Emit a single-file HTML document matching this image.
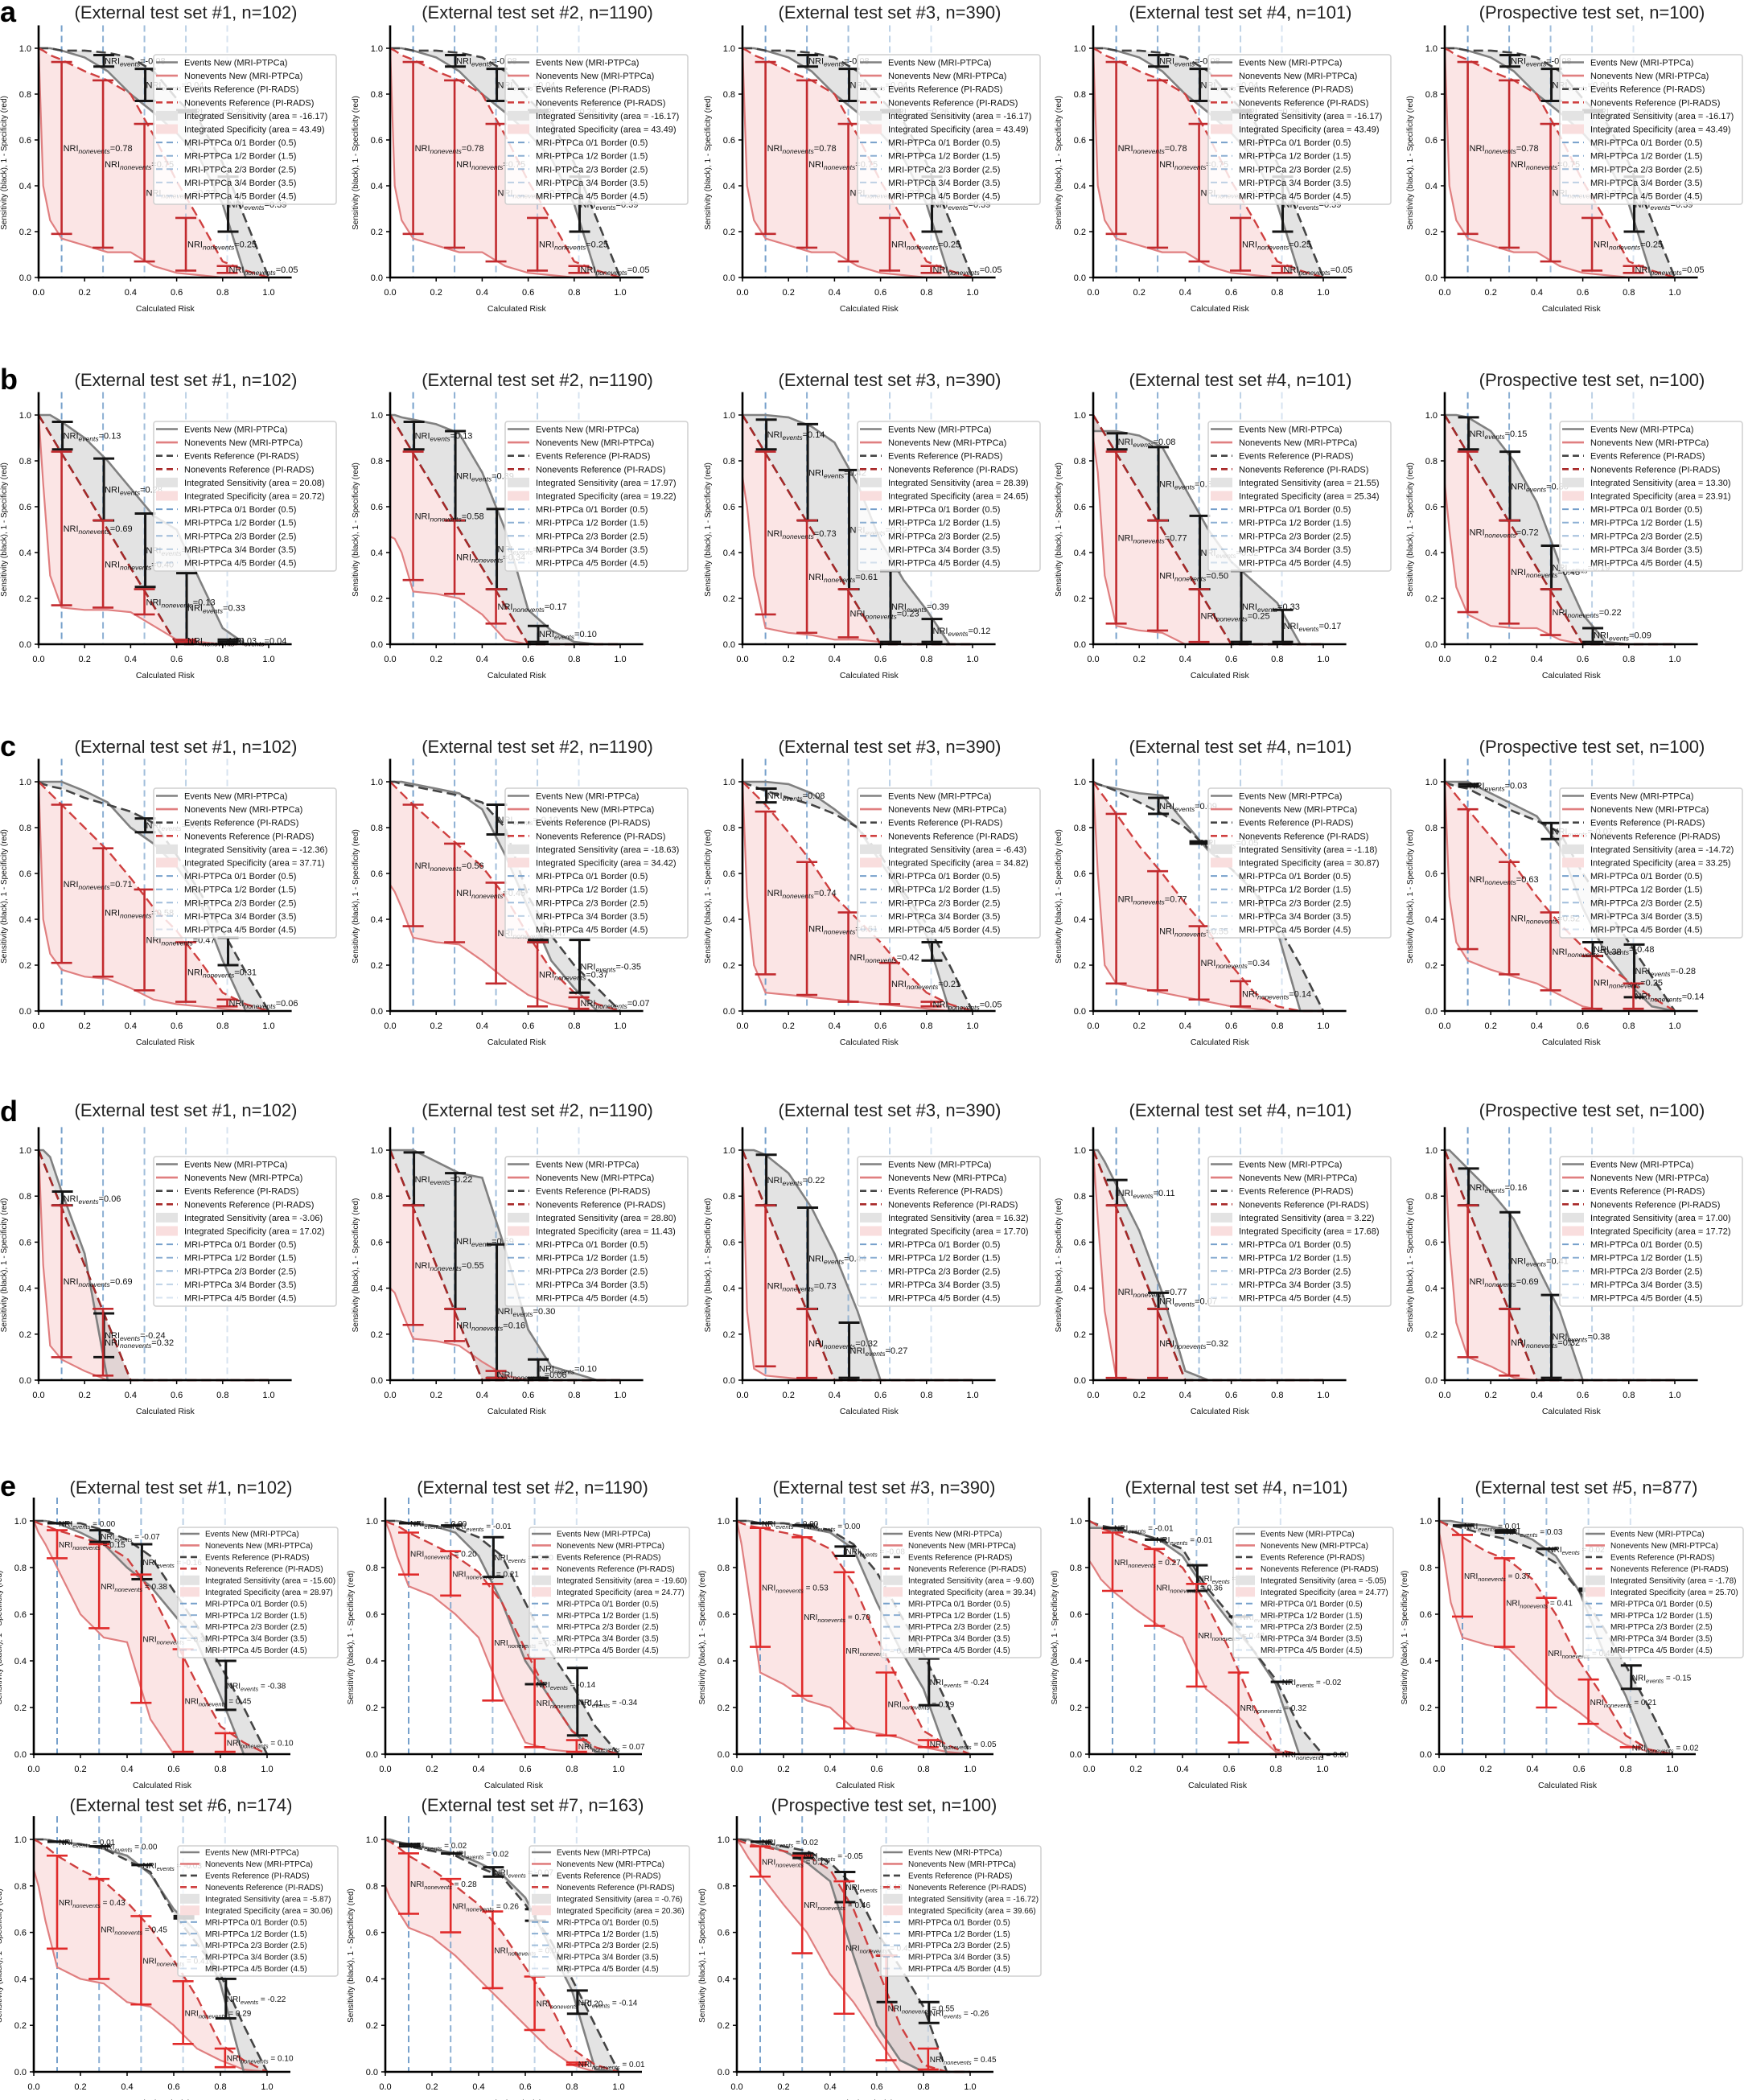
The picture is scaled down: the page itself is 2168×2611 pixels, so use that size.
<!DOCTYPE html>
<html><head><meta charset="utf-8">
<style>
html,body{margin:0;padding:0;background:#fff;}
svg{display:block;font-family:"Liberation Sans",Arial,sans-serif;}
</style></head>
<body>
<svg id="fig" xmlns="http://www.w3.org/2000/svg" width="2168" height="2611" viewBox="0 0 2168 2611">
<rect x="0" y="0" width="2168" height="2611" fill="#fff"/>
<text x="0" y="27" font-size="36" font-weight="bold">a</text>
<text x="0" y="484" font-size="36" font-weight="bold">b</text>
<text x="0" y="940" font-size="36" font-weight="bold">c</text>
<text x="0" y="1394" font-size="36" font-weight="bold">d</text>
<text x="0" y="1860" font-size="36" font-weight="bold">e</text>
</svg>
<script>
// shared grids
const riskGrid = [0,0.02,0.05,0.1,0.2,0.3,0.4,0.5,0.6,0.7,0.8,0.9,1.0];
const borderRisk = [0.1,0.28,0.46,0.64,0.82];
const xTicks = [0,0.2,0.4,0.6,0.8,1.0];
const yTicks = [0,0.2,0.4,0.6,0.8,1.0];
const titlesAD = ["(External test set #1, n=102)","(External test set #2, n=1190)","(External test set #3, n=390)","(External test set #4, n=101)","(Prospective test set, n=100)"];
const titlesE = ["(External test set #1, n=102)","(External test set #2, n=1190)","(External test set #3, n=390)","(External test set #4, n=101)","(External test set #5, n=877)","(External test set #6, n=174)","(External test set #7, n=163)","(Prospective test set, n=100)"];

// row a
const a_evNew = [1,1,1,0.99,0.96,0.9,0.8,0.72,0.63,0.52,0.32,0,0];
const a_evRef = [1,1,1,0.99,0.99,0.98,0.96,0.9,0.78,0.68,0.5,0.25,0];
const a_nevRef = [1,0.99,0.97,0.95,0.9,0.86,0.8,0.62,0.42,0.25,0.07,0.03,0];
const a_nevNew = [1,0.4,0.25,0.17,0.14,0.11,0.11,0.05,0.02,0.01,0,0,0];
const a_evBars = [null,[0.92,0.97],[0.77,0.91],[0.72,0.73],[0.2,0.44]];
const a_nevBars = [[0.19,0.94],[0.13,0.86],[0.07,0.67],[0.03,0.26],[0.02,0.05]];
const a_evNri = [null,-0.08,0.04,0.26,0.39];
const a_nevNri = [0.78,0.75,0.22,0.25,0.05];
const a_areas = [-16.17,43.49];

// row b
const b_ref = [1,0.967,0.917,0.833,0.667,0.5,0.333,0.167,0,0,0,0,0];
const b1_evNew = [1,1,1,0.97,0.9,0.8,0.68,0.56,0.5,0.28,0.07,0,0];
const b1_nevNew = [1,0.7,0.3,0.16,0.15,0.15,0.14,0.08,0.02,0.01,0,0,0];
const b1_evBars = [[0.85,0.97],[0.54,0.81],[0.25,0.57],[0.01,0.31],[0.01,0.02]];
const b1_nevBars = [[0.17,0.84],[0.16,0.54],[0.13,0.24],[0.01,0.02],null];
const b1_evNri = [0.13,0.28,0.33,0.33,0.04];
const b1_nevNri = [0.69,0.40,0.13,0.03,null];
const b1_areas = [20.08,20.72];
const b2_evNew = [1,1,0.99,0.98,0.96,0.92,0.75,0.5,0.15,0.06,0.01,0,0];
const b2_nevNew = [0.47,0.46,0.4,0.23,0.22,0.2,0.13,0.02,0,0,0,0,0];
const b2_evBars = [[0.85,0.97],[0.54,0.93],[0.24,0.59],[0.01,0.08],null];
const b2_nevBars = [[0.28,0.84],[0.22,0.54],[0.09,0.24],null,null];
const b2_evNri = [0.13,0.39,0.33,0.10,null];
const b2_nevNri = [0.58,0.34,0.17,null,null];
const b2_areas = [17.97,19.22];
const b3_evNew = [1,1,1,1,0.99,0.95,0.88,0.7,0.45,0.28,0.15,0,0];
const b3_nevNew = [0.73,0.6,0.3,0.07,0.05,0.04,0.02,0.02,0.01,0,0,0,0];
const b3_evBars = [[0.85,0.98],[0.54,0.96],[0.24,0.76],[0.01,0.32],[0.01,0.11]];
const b3_nevBars = [[0.13,0.84],[0.05,0.54],[0.03,0.24],null,null];
const b3_evNri = [0.14,0.42,0.12,0.39,0.12];
const b3_nevNri = [0.73,0.61,0.23,null,null];
const b3_areas = [28.39,24.65];
const b4_evNew = [0.93,0.93,0.93,0.93,0.91,0.86,0.68,0.5,0.36,0.27,0.18,0,0];
const b4_nevNew = [0.9,0.75,0.3,0.08,0.06,0.05,0,0,0,0,0,0,0];
const b4_evBars = [[0.85,0.92],[0.54,0.86],[0.24,0.56],[0.01,0.32],[0.01,0.15]];
const b4_nevBars = [[0.09,0.84],[0.06,0.54],[0.01,0.24],null,null];
const b4_evNri = [0.08,0.33,0.32,0.33,0.17];
const b4_nevNri = [0.77,0.50,0.25,null,null];
const b4_areas = [21.55,25.34];
const b5_evNew = [1,1,1,0.99,0.93,0.8,0.62,0.35,0.13,0.01,0,0,0];
const b5_nevNew = [0.7,0.5,0.25,0.13,0.08,0.07,0.07,0.02,0,0,0,0,0];
const b5_evBars = [[0.85,0.99],[0.54,0.84],[0.24,0.43],[0.01,0.07],null];
const b5_nevBars = [[0.14,0.84],[0.09,0.54],[0.04,0.24],null,null];
const b5_evNri = [0.15,0.30,0.19,0.09,null];
const b5_nevNri = [0.72,0.45,0.22,null,null];
const b5_areas = [13.30,23.91];

// row c
const c1_evNew = [1,1,1,1,0.96,0.91,0.8,0.73,0.63,0.48,0.22,0,0];
const c1_evRef = [1,0.99,0.98,0.97,0.93,0.9,0.87,0.82,0.68,0.52,0.35,0.17,0];
const c1_nevRef = [1,0.98,0.95,0.9,0.8,0.7,0.58,0.45,0.35,0.22,0.08,0.03,0];
const c1_nevNew = [1,0.4,0.25,0.18,0.15,0.14,0.1,0.05,0.03,0.02,0.01,0,0];
const c1_evBars = [null,null,[0.78,0.84],null,[0.2,0.32]];
const c1_nevBars = [[0.21,0.9],[0.15,0.71],[0.09,0.53],[0.04,0.3],[0.02,0.05]];
const c1_evNri = [null,null,-0.09,null,null];
const c1_nevNri = [0.71,0.58,0.47,0.31,0.06];
const c1_areas = [-12.36,37.71];
const c2_evNew = [1,1,1,0.99,0.97,0.95,0.88,0.68,0.45,0.22,0.1,0,0];
const c2_evRef = [1,1,0.99,0.98,0.96,0.94,0.91,0.8,0.5,0.33,0.2,0.1,0];
const c2_nevRef = [1,0.98,0.95,0.9,0.81,0.72,0.63,0.5,0.33,0.18,0.08,0.03,0];
const c2_nevNew = [0.55,0.52,0.45,0.32,0.3,0.29,0.22,0.14,0.07,0.03,0.01,0,0];
const c2_evBars = [null,null,[0.77,0.9],[0.3,0.31],[0.08,0.31]];
const c2_nevBars = [[0.37,0.9],[0.3,0.73],[0.12,0.56],[0.02,0.3],[0.01,0.06]];
const c2_evNri = [null,null,-0.10,null,-0.35];
const c2_nevNri = [0.56,0.45,0.47,0.37,0.07];
const c2_areas = [-18.63,34.42];
const c3_evNew = [1,1,1,1,0.99,0.95,0.88,0.8,0.65,0.5,0.33,0,0];
const c3_evRef = [1,0.99,0.98,0.96,0.93,0.9,0.86,0.8,0.68,0.52,0.38,0.2,0];
const c3_nevRef = [1,0.98,0.95,0.9,0.78,0.65,0.5,0.4,0.3,0.18,0.08,0.03,0];
const c3_nevNew = [1,0.5,0.2,0.08,0.07,0.06,0.05,0.04,0.03,0.02,0.01,0,0];
const c3_evBars = [[0.91,0.97],null,null,null,[0.22,0.3]];
const c3_nevBars = [[0.16,0.87],[0.07,0.65],[0.04,0.43],[0.03,0.21],[0.02,0.04]];
const c3_evNri = [0.08,null,null,null,null];
const c3_nevNri = [0.74,0.61,0.42,0.21,0.05];
const c3_areas = [-6.43,34.82];
const c4_evNew = [1,0.99,0.98,0.97,0.95,0.94,0.82,0.7,0.62,0.52,0.35,0,0];
const c4_evRef = [1,0.99,0.98,0.96,0.91,0.86,0.8,0.71,0.62,0.53,0.38,0.2,0];
const c4_nevRef = [1,0.97,0.93,0.86,0.72,0.6,0.47,0.35,0.2,0.08,0.02,0,0];
const c4_nevNew = [1,0.6,0.2,0.12,0.1,0.08,0.06,0.04,0.02,0.01,0,0,0];
const c4_evBars = [null,[0.86,0.93],[0.73,0.74],null,null];
const c4_nevBars = [[0.12,0.86],[0.09,0.61],[0.05,0.37],[0.02,0.13],null];
const c4_evNri = [null,0.09,0.05,null,null];
const c4_nevNri = [0.77,0.55,0.34,0.14,null];
const c4_areas = [-1.18,30.87];
const c5_evNew = [1,1,1,1,0.95,0.9,0.85,0.72,0.45,0.25,0.12,0.02,0];
const c5_evRef = [1,0.99,0.98,0.97,0.92,0.87,0.83,0.78,0.6,0.45,0.3,0.15,0];
const c5_nevRef = [1,0.98,0.94,0.88,0.76,0.64,0.5,0.38,0.28,0.2,0.13,0.06,0];
const c5_nevNew = [1,0.5,0.3,0.22,0.18,0.15,0.12,0.07,0.02,0,0,0,0];
const c5_evBars = [[0.98,0.99],null,[0.75,0.82],[0.24,0.3],[0.06,0.29]];
const c5_nevBars = [[0.27,0.88],[0.16,0.65],[0.09,0.43],[0.01,0.24],[0.01,0.12]];
const c5_evNri = [0.03,null,-0.07,-0.48,-0.28];
const c5_nevNri = [0.63,0.52,0.38,0.25,0.14];
const c5_areas = [-14.72,33.25];

// row d
const d_ref = [1,0.95,0.875,0.75,0.5,0.25,0,0,0,0,0,0,0];
const d1_evNew = [1,1,0.97,0.82,0.55,0,0,0,0,0,0,0,0];
const d1_nevNew = [1,0.5,0.15,0.09,0.04,0,0,0,0,0,0,0,0];
const d1_evBars = [[0.76,0.82],[0.1,0.29],null,null,null];
const d1_nevBars = [[0.1,0.76],[0.02,0.31],null,null,null];
const d1_evNri = [0.06,-0.24,null,null,null];
const d1_nevNri = [0.69,0.32,null,null,null];
const d1_areas = [-3.06,17.02];
const d2_evNew = [1,1,1,1,0.95,0.9,0.88,0.57,0.22,0.06,0.03,0,0];
const d2_nevNew = [0.4,0.38,0.3,0.18,0.17,0.15,0.08,0.02,0,0,0,0,0];
const d2_evBars = [[0.76,0.99],[0.31,0.9],[0.01,0.59],[0.01,0.09],null];
const d2_nevBars = [[0.24,0.76],[0.17,0.31],[0.01,0.04],null,null];
const d2_evNri = [0.22,0.59,0.30,0.10,null];
const d2_nevNri = [0.55,0.16,0.06,null,null];
const d2_areas = [28.80,11.43];
const d3_evNew = [1,1,1,0.98,0.9,0.75,0.55,0.3,0,0,0,0,0];
const d3_nevNew = [1,0.3,0.05,0.02,0.01,0,0,0,0,0,0,0,0];
const d3_evBars = [[0.76,0.98],[0.31,0.75],[0.01,0.25],null,null];
const d3_nevBars = [[0.06,0.76],[0.01,0.31],null,null,null];
const d3_evNri = [0.22,0.44,0.27,null,null];
const d3_nevNri = [0.73,0.32,null,null,null];
const d3_areas = [16.32,17.70];
const d4_evNew = [1,1,0.95,0.85,0.65,0.38,0.04,0,0,0,0,0,0];
const d4_nevNew = [1,0.7,0.3,0.01,0,0,0,0,0,0,0,0,0];
const d4_evBars = [[0.76,0.87],[0.31,0.38],null,null,null];
const d4_nevBars = [[0.01,0.76],[0.01,0.31],null,null,null];
const d4_evNri = [0.11,0.07,null,null,null];
const d4_nevNri = [0.77,0.32,null,null,null];
const d4_areas = [3.22,17.68];
const d5_evNew = [1,1,0.97,0.92,0.82,0.7,0.5,0.3,0,0,0,0,0];
const d5_nevNew = [1,0.6,0.25,0.1,0.06,0.01,0,0,0,0,0,0,0];
const d5_evBars = [[0.76,0.92],[0.31,0.73],[0.01,0.37],null,null];
const d5_nevBars = [[0.1,0.76],[0.02,0.31],null,null,null];
const d5_evNri = [0.16,0.41,0.38,null,null];
const d5_nevNri = [0.69,0.32,null,null,null];
const d5_areas = [17.00,17.72];

// row e
const e1_evNew = [1,1,1,0.99,0.95,0.9,0.8,0.72,0.6,0.48,0.25,0,0];
const e1_evRef = [1,1,1,0.99,0.99,0.96,0.92,0.85,0.7,0.55,0.38,0.2,0];
const e1_nevRef = [1,0.99,0.98,0.96,0.93,0.9,0.84,0.7,0.5,0.3,0.12,0.05,0];
const e1_nevNew = [1,0.95,0.9,0.8,0.6,0.5,0.48,0.15,0,0,0,0,0];
const e1_evBars = [[0.99,0.99],[0.91,0.96],[0.75,0.9],null,[0.19,0.4]];
const e1_nevBars = [[0.84,0.96],[0.54,0.9],[0.22,0.77],[0.01,0.45],[0.01,0.09]];
const e1_evNri = [0.00,-0.07,-0.16,null,-0.38];
const e1_nevNri = [0.15,0.38,0.37,0.45,0.10];
const e1_areas = [-15.60,28.97];
const e2_evNew = [1,1,1,0.99,0.98,0.95,0.85,0.65,0.4,0.25,0.1,0.01,0];
const e2_evRef = [1,1,1,0.99,0.98,0.97,0.93,0.85,0.65,0.45,0.3,0.12,0];
const e2_nevRef = [1,0.99,0.98,0.95,0.9,0.85,0.78,0.65,0.45,0.25,0.1,0.03,0];
const e2_nevNew = [1,0.95,0.85,0.72,0.68,0.6,0.5,0.25,0.05,0.02,0.01,0,0];
const e2_evBars = [[0.99,0.99],[0.98,0.98],[0.76,0.93],[0.3,0.3],[0.08,0.37]];
const e2_nevBars = [[0.77,0.95],[0.68,0.87],[0.23,0.73],[0.03,0.41],[0.01,0.06]];
const e2_evNri = [0.00,-0.01,-0.20,-0.14,-0.34];
const e2_nevNri = [0.20,0.21,0.30,0.41,0.07];
const e2_areas = [-19.60,24.77];
const e3_evNew = [1,1,1,0.99,0.99,0.97,0.95,0.88,0.65,0.45,0.28,0,0];
const e3_evRef = [1,1,1,0.99,0.99,0.98,0.96,0.9,0.78,0.6,0.43,0.22,0];
const e3_nevRef = [1,0.99,0.98,0.97,0.95,0.93,0.88,0.73,0.5,0.3,0.1,0.04,0];
const e3_nevNew = [1,0.9,0.7,0.35,0.3,0.23,0.2,0.11,0.09,0.07,0.03,0.01,0];
const e3_evBars = [[0.99,0.99],[0.98,0.98],[0.85,0.89],null,[0.21,0.41]];
const e3_nevBars = [[0.46,0.97],[0.25,0.93],[0.11,0.78],[0.08,0.35],[0.03,0.06]];
const e3_evNri = [0.00,0.00,-0.08,null,-0.24];
const e3_nevNri = [0.53,0.70,0.45,0.29,0.05];
const e3_areas = [-9.60,39.34];
const e4_evNew = [0.97,0.97,0.97,0.96,0.95,0.92,0.85,0.7,0.57,0.45,0.3,0,0];
const e4_evRef = [1,0.99,0.98,0.97,0.95,0.92,0.88,0.72,0.6,0.45,0.32,0.12,0];
const e4_nevRef = [1,0.99,0.97,0.95,0.91,0.87,0.8,0.65,0.45,0.22,0.02,0,0];
const e4_nevNew = [0.83,0.8,0.75,0.7,0.62,0.55,0.5,0.28,0.2,0.1,0.01,0,0];
const e4_evBars = [[0.97,0.97],[0.92,0.92],[0.7,0.81],[0.59,0.59],[0.31,0.31]];
const e4_nevBars = [[0.7,0.95],[0.55,0.88],[0.29,0.73],[0.05,0.35],[0.0,0.0]];
const e4_evNri = [-0.01,0.01,0.14,0.07,-0.02];
const e4_nevNri = [0.27,0.36,0.48,0.32,0.00];
const e4_areas = [-5.05,24.77];
const e5_evNew = [1,1,1,0.99,0.98,0.96,0.92,0.85,0.7,0.45,0.25,0,0];
const e5_evRef = [1,0.99,0.98,0.97,0.94,0.92,0.88,0.82,0.7,0.55,0.38,0.2,0];
const e5_nevRef = [1,0.99,0.97,0.93,0.87,0.83,0.75,0.6,0.4,0.25,0.08,0.02,0];
const e5_nevNew = [0.95,0.85,0.65,0.5,0.47,0.45,0.35,0.25,0.18,0.1,0.04,0.01,0];
const e5_evBars = [[0.98,0.98],[0.95,0.96],[0.88,0.88],[0.7,0.71],[0.28,0.38]];
const e5_nevBars = [[0.59,0.94],[0.46,0.84],[0.2,0.67],[0.13,0.32],[0.03,0.03]];
const e5_evNri = [0.01,0.03,0.02,null,-0.15];
const e5_nevNri = [0.37,0.41,0.49,0.21,0.02];
const e5_areas = [-1.78,25.70];
const e6_evNew = [1,1,1,0.99,0.98,0.96,0.93,0.85,0.7,0.6,0.38,0,0];
const e6_evRef = [1,1,1,0.99,0.98,0.96,0.91,0.86,0.68,0.55,0.42,0.2,0];
const e6_nevRef = [1,0.99,0.97,0.93,0.87,0.82,0.73,0.62,0.48,0.32,0.12,0.05,0];
const e6_nevNew = [0.87,0.8,0.65,0.45,0.4,0.38,0.3,0.28,0.2,0.1,0.05,0.01,0];
const e6_evBars = [[0.99,0.99],[0.97,0.97],[0.89,0.89],[0.66,0.67],[0.23,0.4]];
const e6_nevBars = [[0.53,0.93],[0.4,0.83],[0.29,0.67],[0.12,0.39],[0.02,0.1]];
const e6_evNri = [0.01,0.00,-0.03,null,-0.22];
const e6_nevNri = [0.43,0.45,0.41,0.29,0.10];
const e6_areas = [-5.87,30.06];
const e7_evNew = [1,1,0.99,0.98,0.96,0.94,0.9,0.85,0.75,0.55,0.35,0.01,0];
const e7_evRef = [1,0.99,0.99,0.97,0.95,0.93,0.88,0.84,0.72,0.58,0.4,0.2,0];
const e7_nevRef = [1,0.99,0.97,0.93,0.87,0.8,0.72,0.6,0.45,0.3,0.1,0.03,0];
const e7_nevNew = [0.8,0.75,0.7,0.62,0.58,0.5,0.4,0.3,0.2,0.1,0.03,0,0];
const e7_evBars = [[0.97,0.98],[0.94,0.94],[0.84,0.88],[0.65,0.7],[0.25,0.35]];
const e7_nevBars = [[0.68,0.94],[0.6,0.83],[0.36,0.69],[0.18,0.41],[0.03,0.04]];
const e7_evNri = [0.02,0.02,-0.07,null,-0.14];
const e7_nevNri = [0.28,0.26,0.07,0.20,0.01];
const e7_areas = [-0.76,20.36];
const e8_evNew = [1,1,1,0.98,0.95,0.9,0.82,0.5,0.2,0.05,0,0,0];
const e8_evRef = [1,1,0.99,0.99,0.97,0.95,0.9,0.8,0.6,0.45,0.28,0,0];
const e8_nevRef = [1,0.99,0.98,0.97,0.95,0.93,0.87,0.7,0.45,0.2,0.03,0,0];
const e8_nevNew = [1,0.97,0.92,0.85,0.72,0.6,0.42,0.3,0.15,0,0,0,0];
const e8_evBars = [[0.99,0.99],[0.92,0.94],[0.73,0.86],[0.3,0.5],[0.21,0.3]];
const e8_nevBars = [[0.84,0.97],[0.51,0.93],[0.25,0.82],[0.05,0.5],[0.01,0.1]];
const e8_evNri = [0.02,-0.05,0.13,null,-0.26];
const e8_nevNri = [0.13,0.46,0.45,0.55,0.45];
const e8_areas = [-16.72,39.66];

const NS = "http://www.w3.org/2000/svg";
const svg = document.getElementById('fig');
function mk(tag, attrs, parent){
  const el = document.createElementNS(NS, tag);
  for (const k in attrs) el.setAttribute(k, attrs[k]);
  (parent||svg).appendChild(el);
  return el;
}

const rowsAD = [
  {y1:60,y0:345,ty:23},{y1:516,y0:801,ty:480},{y1:972,y0:1257,ty:936},{y1:1430,y0:1716,ty:1388}
];
const colsAD = [48,485,923,1359,1796];
const colsE = [42,479,916,1354,1789];

const panelList = [];
for (let c=0;c<5;c++) panelList.push({id:'a'+(c+1),ox:colsAD[c],w:286,y1:60,y0:345,ty:23,title:titlesAD[c],evNew:a_evNew,evRef:a_evRef,nevRef:a_nevRef,nevNew:a_nevNew,evBars:a_evBars,nevBars:a_nevBars,evNri:a_evNri,nevNri:a_nevNri,areas:a_areas,style:'ad'});
const bSets=[[b1_evNew,b1_nevNew,b1_evBars,b1_nevBars,b1_evNri,b1_nevNri,b1_areas],[b2_evNew,b2_nevNew,b2_evBars,b2_nevBars,b2_evNri,b2_nevNri,b2_areas],[b3_evNew,b3_nevNew,b3_evBars,b3_nevBars,b3_evNri,b3_nevNri,b3_areas],[b4_evNew,b4_nevNew,b4_evBars,b4_nevBars,b4_evNri,b4_nevNri,b4_areas],[b5_evNew,b5_nevNew,b5_evBars,b5_nevBars,b5_evNri,b5_nevNri,b5_areas]];
bSets.forEach((s,c)=>panelList.push({id:'b'+(c+1),ox:colsAD[c],w:286,y1:516,y0:801,ty:480,title:titlesAD[c],evNew:s[0],evRef:b_ref,nevRef:b_ref,nevNew:s[1],evBars:s[2],nevBars:s[3],evNri:s[4],nevNri:s[5],areas:s[6],style:'ad',darkRef:true}));
const cSets=[[c1_evNew,c1_evRef,c1_nevRef,c1_nevNew,c1_evBars,c1_nevBars,c1_evNri,c1_nevNri,c1_areas],[c2_evNew,c2_evRef,c2_nevRef,c2_nevNew,c2_evBars,c2_nevBars,c2_evNri,c2_nevNri,c2_areas],[c3_evNew,c3_evRef,c3_nevRef,c3_nevNew,c3_evBars,c3_nevBars,c3_evNri,c3_nevNri,c3_areas],[c4_evNew,c4_evRef,c4_nevRef,c4_nevNew,c4_evBars,c4_nevBars,c4_evNri,c4_nevNri,c4_areas],[c5_evNew,c5_evRef,c5_nevRef,c5_nevNew,c5_evBars,c5_nevBars,c5_evNri,c5_nevNri,c5_areas]];
cSets.forEach((s,c)=>panelList.push({id:'c'+(c+1),ox:colsAD[c],w:286,y1:972,y0:1257,ty:936,title:titlesAD[c],evNew:s[0],evRef:s[1],nevRef:s[2],nevNew:s[3],evBars:s[4],nevBars:s[5],evNri:s[6],nevNri:s[7],areas:s[8],style:'ad'}));
const dSets=[[d1_evNew,d1_nevNew,d1_evBars,d1_nevBars,d1_evNri,d1_nevNri,d1_areas],[d2_evNew,d2_nevNew,d2_evBars,d2_nevBars,d2_evNri,d2_nevNri,d2_areas],[d3_evNew,d3_nevNew,d3_evBars,d3_nevBars,d3_evNri,d3_nevNri,d3_areas],[d4_evNew,d4_nevNew,d4_evBars,d4_nevBars,d4_evNri,d4_nevNri,d4_areas],[d5_evNew,d5_nevNew,d5_evBars,d5_nevBars,d5_evNri,d5_nevNri,d5_areas]];
dSets.forEach((s,c)=>panelList.push({id:'d'+(c+1),ox:colsAD[c],w:286,y1:1430,y0:1716,ty:1388,title:titlesAD[c],evNew:s[0],evRef:d_ref,nevRef:d_ref,nevNew:s[1],evBars:s[2],nevBars:s[3],evNri:s[4],nevNri:s[5],areas:s[6],style:'ad',darkRef:true}));
const eSets=[[e1_evNew,e1_evRef,e1_nevRef,e1_nevNew,e1_evBars,e1_nevBars,e1_evNri,e1_nevNri,e1_areas],[e2_evNew,e2_evRef,e2_nevRef,e2_nevNew,e2_evBars,e2_nevBars,e2_evNri,e2_nevNri,e2_areas],[e3_evNew,e3_evRef,e3_nevRef,e3_nevNew,e3_evBars,e3_nevBars,e3_evNri,e3_nevNri,e3_areas],[e4_evNew,e4_evRef,e4_nevRef,e4_nevNew,e4_evBars,e4_nevBars,e4_evNri,e4_nevNri,e4_areas],[e5_evNew,e5_evRef,e5_nevRef,e5_nevNew,e5_evBars,e5_nevBars,e5_evNri,e5_nevNri,e5_areas],[e6_evNew,e6_evRef,e6_nevRef,e6_nevNew,e6_evBars,e6_nevBars,e6_evNri,e6_nevNri,e6_areas],[e7_evNew,e7_evRef,e7_nevRef,e7_nevNew,e7_evBars,e7_nevBars,e7_evNri,e7_nevNri,e7_areas],[e8_evNew,e8_evRef,e8_nevRef,e8_nevNew,e8_evBars,e8_nevBars,e8_evNri,e8_nevNri,e8_areas]];
eSets.forEach((s,i)=>{
  const c = i<5 ? i : i-5;
  const top = i<5 ? {y1:1891,y0:2181,ty:1857} : {y1:2287,y0:2576,ty:2252};
  panelList.push({id:'e'+(i+1),ox:colsE[c],w:290,y1:top.y1,y0:top.y0,ty:top.ty,title:titlesE[i],evNew:s[0],evRef:s[1],nevRef:s[2],nevNew:s[3],evBars:s[4],nevBars:s[5],evNri:s[6],nevNri:s[7],areas:s[8],style:'e'});
});

const borderAlpha = [0.95,0.8,0.65,0.45,0.28];
const borderLabels = ['0/1 Border (0.5)','1/2 Border (1.5)','2/3 Border (2.5)','3/4 Border (3.5)','4/5 Border (4.5)'];

function fmt(v){ return v.toFixed(2); }

function drawPanel(p){
  const g = mk('g',{});
  
  
  const sx = r => p.ox + r*p.w;
  const sy = v => p.y0 - v*(p.y0-p.y1);
  const isE = p.style==='e';
  const fs = isE ? 10 : 11;
  // title
  const t = mk('text',{x:p.ox+183,y:p.ty,'font-size':22,'text-anchor':'middle',fill:'#222'},g);
  t.textContent = p.title;
  
  
  const pts = arr => arr.map((v,i)=>sx(riskGrid[i]).toFixed(1)+','+sy(v).toFixed(1));
  // fills
  const pf = mk('polygon',{points:pts(p.nevNew).concat(pts(p.nevRef).reverse()).join(' '),fill:'#f2a9a9','fill-opacity':0.3,stroke:'none'},g);
  
  
  const gf = mk('polygon',{points:pts(p.evNew).concat(pts(p.evRef).reverse()).join(' '),fill:'#bcbcbc','fill-opacity':0.42,stroke:'none'},g);
  
  
  // border lines
  borderRisk.forEach((b,i)=>{
    const l = mk('line',{x1:sx(b),x2:sx(b),y1:sy(1.1),y2:p.y0,stroke:'#6f9bc8','stroke-opacity':borderAlpha[i],'stroke-width':2,'stroke-dasharray':'8,5'},g);
    
    
  });
  // curves
  const c1 = mk('polyline',{points:pts(p.nevNew).join(' '),fill:'none',stroke:'#e07f80','stroke-width':2.2},g);
  
  
  const c2 = mk('polyline',{points:pts(p.evNew).join(' '),fill:'none',stroke:'#808080','stroke-width':2.6},g);
  
  
  const c3 = mk('polyline',{points:pts(p.evRef).join(' '),fill:'none',stroke:'#444','stroke-width':2.6,'stroke-dasharray':'12,6'},g);
  
  
  const c4 = mk('polyline',{points:pts(p.nevRef).join(' '),fill:'none',stroke:p.darkRef?'#a82828':'#cf4040','stroke-width':2.4,'stroke-dasharray':'12,6'},g);
  
  
  // error bars
  const cap = 13;
  const bar = (b,x,col,wd,name)=>{
    const bg = mk('g',{stroke:col,'stroke-width':wd},g);
    
    
    mk('line',{x1:x,x2:x,y1:sy(b[0]),y2:sy(b[1])},bg);
    mk('line',{x1:x-cap,x2:x+cap,y1:sy(b[0]),y2:sy(b[0])},bg);
    mk('line',{x1:x-cap,x2:x+cap,y1:sy(b[1]),y2:sy(b[1])},bg);
  };
  borderRisk.forEach((b,i)=>{
    if (p.evBars[i]) bar(p.evBars[i],sx(b)+1,'#151515',3,'events-nri-error-bar');
  });
  borderRisk.forEach((b,i)=>{
    if (p.nevBars[i]) bar(p.nevBars[i],sx(b),isE?'#e02a2a':'#c22a2e',2.6,'nonevents-nri-error-bar');
  });
  // labels
  const label = (b,x,sub,val)=>{
    const tx = mk('text',{x:x+2,y:sy((b[0]+b[1])/2)+4,'font-size':fs,fill:'#111'},g);
    
    
    const s1 = mk('tspan',{},tx); s1.textContent='NRI';
    const s2 = mk('tspan',{'font-size':fs-2.5,'font-style':'italic',dy:3},tx); s2.textContent=sub;
    const s3 = mk('tspan',{dy:-3},tx); s3.textContent=(isE?' = ':'=')+fmt(val);
  };
  borderRisk.forEach((b,i)=>{
    if (p.evBars[i] && p.evNri[i]!==null) label(p.evBars[i],sx(b),'events',p.evNri[i]);
    if (p.nevBars[i] && p.nevNri[i]!==null) label(p.nevBars[i],sx(b),'nonevents',p.nevNri[i]);
  });
  // axes
  const ax = mk('g',{stroke:'#000','stroke-width':2.6},g);
  
  
  mk('line',{x1:p.ox,x2:p.ox,y1:sy(1.1),y2:p.y0+1.3},ax);
  mk('line',{x1:p.ox-1.3,x2:sx(1.1),y1:p.y0,y2:p.y0},ax);
  xTicks.forEach(v=>{
    mk('line',{x1:sx(v),x2:sx(v),y1:p.y0,y2:p.y0+5,'stroke-width':1.5},ax);
    const tl = mk('text',{x:sx(v),y:p.y0+22,'font-size':11,'text-anchor':'middle',fill:'#000',stroke:'none'},g);
    tl.textContent = v.toFixed(1);
    
    
  });
  yTicks.forEach(v=>{
    mk('line',{x1:p.ox-5,x2:p.ox,y1:sy(v),y2:sy(v),'stroke-width':1.5},ax);
    const tl = mk('text',{x:p.ox-9,y:sy(v)+4,'font-size':11,'text-anchor':'end',fill:'#000',stroke:'none'},g);
    tl.textContent = v.toFixed(1);
    
    
  });
  const xl = mk('text',{x:sx(0.55),y:p.y0+42,'font-size':10.5,'text-anchor':'middle',fill:'#111'},g);
  xl.textContent='Calculated Risk';
  
  
  const ym = (p.y0+p.y1)/2;
  const yl = mk('text',{x:p.ox-40,y:ym,'font-size':10,'text-anchor':'middle',fill:'#111',transform:'rotate(-90 '+(p.ox-40)+' '+ym+')'},g);
  yl.textContent='Sensitivity (black), 1 - Specificity (red)';
  
  
  // legend
  const L = isE ? {dx:179,w:199,rh:14.45,pad:8,fs:10,h:162,hl:24,tx:34} : {dx:143,w:227,rh:16.6,pad:9.5,fs:11,h:186,hl:27,tx:38};
  const lx = p.ox+L.dx, ly = p.y1+8;
  const lg = mk('g',{},g);
  
  
  mk('rect',{x:lx,y:ly,width:L.w,height:L.h,rx:3,fill:'#fff','fill-opacity':0.82,stroke:'#cfcfcf','stroke-width':1.5},lg);
  const entries = [
    ['line','#808080',null,'Events New (MRI-PTPCa)'],
    ['line','#e07f80',null,'Nonevents New (MRI-PTPCa)'],
    ['line','#444','8,5','Events Reference (PI-RADS)'],
    ['line',p.darkRef?'#a82828':'#cf4040','8,5','Nonevents Reference (PI-RADS)'],
    ['patch','#e3e3e3',null,'Integrated Sensitivity (area = '+fmt(p.areas[0])+')'],
    ['patch','#f9dede',null,'Integrated Specificity (area = '+fmt(p.areas[1])+')']
  ];
  borderLabels.forEach((bl,i)=>entries.push(['border',i,null,'MRI-PTPCa '+bl]));
  entries.forEach((e,i)=>{
    const cy = ly+L.pad+i*L.rh;
    const eg = mk('g',{},lg);
    
    
    if (e[0]==='line'){
      const a={x1:lx+3,x2:lx+3+L.hl,y1:cy,y2:cy,stroke:e[1],'stroke-width':2.6};
      if (e[2]) a['stroke-dasharray']=e[2];
      mk('line',a,eg);
    } else if (e[0]==='patch'){
      mk('rect',{x:lx+3,y:cy-6,width:L.hl,height:12,fill:e[1]},eg);
    } else {
      mk('line',{x1:lx+3,x2:lx+3+L.hl,y1:cy,y2:cy,stroke:'#6f9bc8','stroke-opacity':borderAlpha[e[1]],'stroke-width':2,'stroke-dasharray':'8,5'},eg);
    }
    const tx = mk('text',{x:lx+L.tx,y:cy+L.fs*0.36,'font-size':L.fs,fill:'#111'},eg);
    tx.textContent = e[3];
  });
}
panelList.forEach(drawPanel);
</script>
</body></html>
